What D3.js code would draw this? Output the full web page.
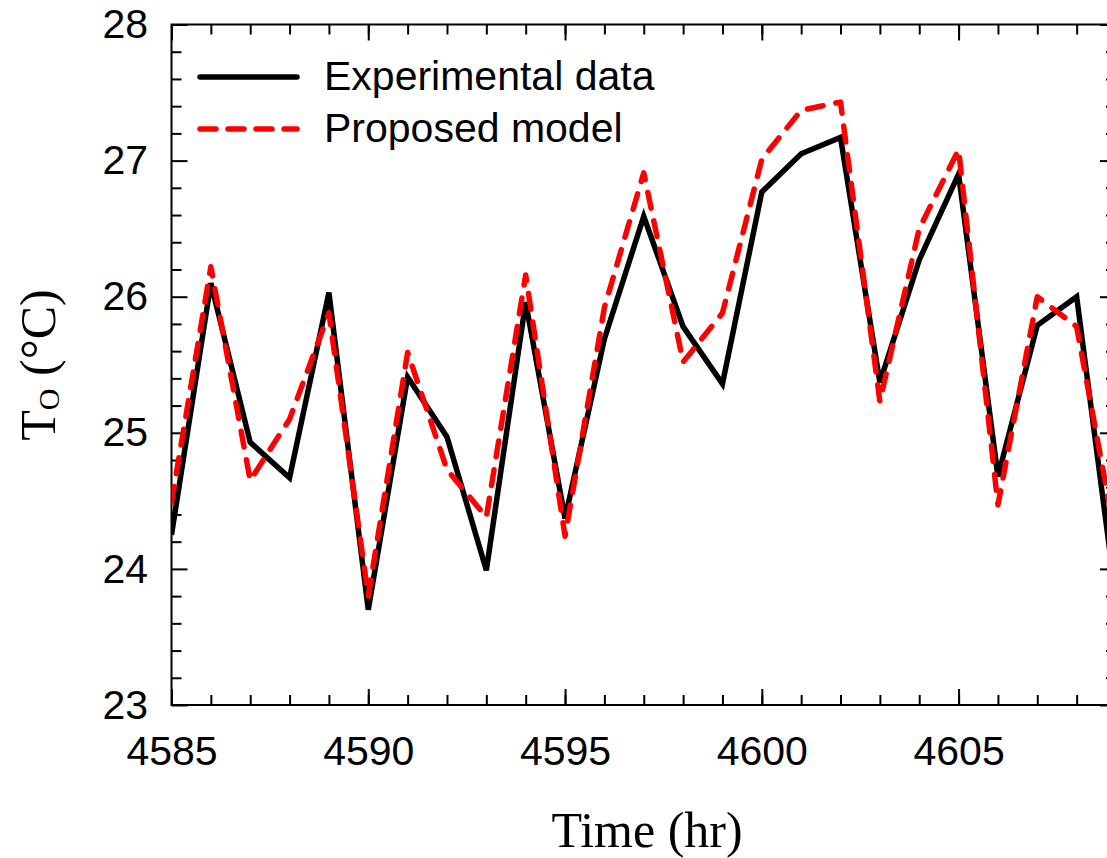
<!DOCTYPE html>
<html>
<head>
<meta charset="utf-8">
<script src="https://cdn.jsdelivr.net/npm/d3@7"></script>
<style>
  body { margin: 0; background: #fff; }
  svg { display: block; }
  .tick text { font-family: Arial, "Liberation Sans", sans-serif; font-size: 41px; fill: #000; }
  .tick line { stroke: #000; stroke-width: 2px; }
</style>
</head>
<body>
<svg id="chart" width="1107" height="858"></svg>
<script>
'use strict';

// time in hours
var hours = [4585, 4586, 4587, 4588, 4589, 4590, 4591, 4592, 4593, 4594, 4595, 4596, 4597,
    4598, 4599, 4600, 4601, 4602, 4603, 4604, 4605, 4606, 4607, 4608, 4609];

var experimental = [24.25, 26.10, 24.93, 24.67, 26.03, 23.70, 25.41, 24.97, 23.99, 25.96, 24.37, 25.69, 26.59,
    25.78, 25.36, 26.77, 27.05, 27.17, 25.37, 26.27, 26.90, 24.68, 25.79, 26.00, 23.78];

var model = [24.49, 26.22, 24.65, 25.10, 25.88, 23.80, 25.59, 24.73, 24.38, 26.16, 24.24, 25.92, 26.91,
    25.52, 25.88, 27.01, 27.37, 27.43, 25.23, 26.50, 27.08, 24.47, 26.00, 25.78, 24.21];

var xTicks = [4585, 4590, 4595, 4600, 4605];
var yTicks = [23, 24, 25, 26, 27, 28];
var yMinor = [23.2, 23.4, 23.6, 23.8, 24.2, 24.4, 24.6, 24.8, 25.2, 25.4, 25.6, 25.8,
    26.2, 26.4, 26.6, 26.8, 27.2, 27.4, 27.6, 27.8];

var seriesNames = ['Experimental data', 'Proposed model'];

var plotLeft = 171.5, plotRight = 1116, plotTop = 24.5, plotBottom = 705;

var svg = d3.select('#chart');

var x = d3.scaleLinear().domain([4585, 4609]).range([plotLeft, plotRight]);
var y = d3.scaleLinear().domain([23, 28]).range([plotBottom, plotTop]);

svg.append('clipPath').attr('id', 'plot')
    .append('rect')
    .attr('x', plotLeft).attr('y', plotTop)
    .attr('width', plotRight - plotLeft).attr('height', plotBottom - plotTop);

// minor ticks on all four sides, pointing inward
function minorAxes() {
    svg.append('g').attr('transform', 'translate(0,' + plotBottom + ')')
        .call(d3.axisBottom(x).tickValues(hours).tickSizeInner(-10).tickSizeOuter(0).tickFormat(''));
    svg.append('g').attr('transform', 'translate(0,' + plotTop + ')')
        .call(d3.axisTop(x).tickValues(hours).tickSizeInner(-10).tickSizeOuter(0).tickFormat(''));
    svg.append('g').attr('transform', 'translate(' + plotLeft + ',0)')
        .call(d3.axisLeft(y).tickValues(yMinor).tickSizeInner(-10).tickSizeOuter(0).tickFormat(''));
    svg.append('g').attr('transform', 'translate(' + plotRight + ',0)')
        .call(d3.axisRight(y).tickValues(yMinor).tickSizeInner(-10).tickSizeOuter(0).tickFormat(''));
}
minorAxes();

svg.append('g').attr('transform', 'translate(0,' + plotBottom + ')')
    .call(d3.axisBottom(x).tickValues(xTicks).tickSizeInner(-16).tickSizeOuter(0).tickPadding(31).tickFormat(d3.format('d')));
svg.append('g').attr('transform', 'translate(0,' + plotTop + ')')
    .call(d3.axisTop(x).tickValues(xTicks).tickSizeInner(-16).tickSizeOuter(0).tickFormat(''));
svg.append('g').attr('transform', 'translate(' + plotLeft + ',0)')
    .call(d3.axisLeft(y).tickValues(yTicks).tickSizeInner(-16).tickSizeOuter(0).tickPadding(23.5).tickFormat(d3.format('d')));
svg.append('g').attr('transform', 'translate(' + plotRight + ',0)')
    .call(d3.axisRight(y).tickValues(yTicks).tickSizeInner(-16).tickSizeOuter(0).tickFormat(''));

svg.selectAll('.domain').remove();

svg.append('rect')
    .attr('x', plotLeft).attr('y', plotTop)
    .attr('width', plotRight - plotLeft).attr('height', plotBottom - plotTop)
    .attr('fill', 'none').attr('stroke', '#000').attr('stroke-width', 2);

var line = d3.line()
    .x(function(d, i) { return x(hours[i]); })
    .y(function(d) { return y(d); });

var lines = svg.append('g').attr('clip-path', 'url(#plot)');

lines.append('path')
    .datum(experimental)
    .attr('d', line)
    .attr('fill', 'none')
    .attr('stroke', '#000')
    .attr('stroke-width', 5.5)
    .attr('stroke-linejoin', 'miter');

lines.append('path')
    .datum(model)
    .attr('d', line)
    .attr('fill', 'none')
    .attr('stroke', '#ff0000')
    .attr('stroke-width', 5.5)
    .attr('stroke-linecap', 'round')
    .attr('stroke-linejoin', 'round')
    .attr('stroke-dasharray', '16,13');

// legend
var legend = svg.append('g');
legend.append('line')
    .attr('x1', 200).attr('x2', 297).attr('y1', 77).attr('y2', 77)
    .attr('stroke', '#000').attr('stroke-width', 5.5).attr('stroke-linecap', 'round');
legend.append('line')
    .attr('x1', 200).attr('x2', 297).attr('y1', 129).attr('y2', 129)
    .attr('stroke', '#ff0000').attr('stroke-width', 5.5)
    .attr('stroke-linecap', 'round').attr('stroke-dasharray', '16,12');
legend.selectAll('text')
    .data(seriesNames)
    .enter().append('text')
    .attr('x', 324)
    .attr('y', function(d, i) { return 90 + i * 52; })
    .style('font-family', 'Arial, "Liberation Sans", sans-serif')
    .style('font-size', '41px')
    .text(function(d) { return d; });

// axis titles
svg.append('text')
    .attr('x', 647).attr('y', 847)
    .attr('text-anchor', 'middle')
    .style('font-family', '"Times New Roman", "Liberation Serif", serif')
    .style('font-size', '50px')
    .text('Time (hr)');

var yTitle = svg.append('text')
    .attr('transform', 'translate(55,365) rotate(-90)')
    .attr('text-anchor', 'middle')
    .style('font-family', '"Times New Roman", "Liberation Serif", serif')
    .style('font-size', '50px');
yTitle.append('tspan').text('T');
yTitle.append('tspan').style('font-size', '30px').attr('dy', 4).text('O');
yTitle.append('tspan').attr('dy', -4).text(' (°C)');
</script>
</body>
</html>
